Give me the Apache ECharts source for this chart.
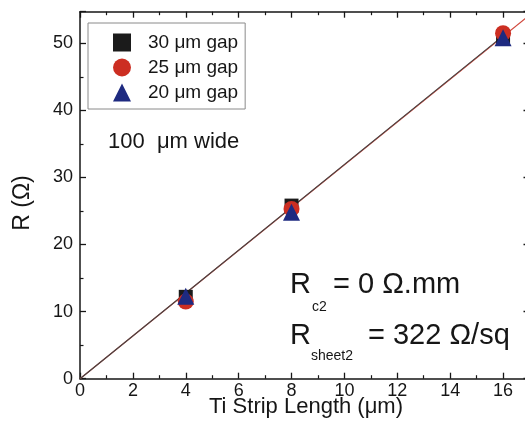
<!DOCTYPE html>
<html>
<head>
<meta charset="utf-8">
<script src="https://cdn.jsdelivr.net/npm/echarts@6/dist/echarts.min.js"></script>
<style>
  html, body { margin: 0; padding: 0; background: #fff; }
  #chart { width: 525px; height: 426px; }
</style>
</head>
<body>
<div id="chart"></div>
<script>
// Ti strip resistance vs. strip length (100 µm wide strips)
const stripLength = [4, 8, 16];
const gap30 = [12.2, 25.8, 51.0];
const gap25 = [11.5, 25.3, 51.5];
const gap20 = [12.3, 24.8, 50.8];

// linear fit end points (through the origin)
const fit30X = [0, 16];
const fit30Y = [0, 51.1];
const fit25X = [0, 17];
const fit25Y = [0, 54.2];

const seriesNames = ['30 μm gap', '25 μm gap', '20 μm gap'];
const xTicks = [0, 2, 4, 6, 8, 10, 12, 14, 16];
const yTicks = [0, 10, 20, 30, 40, 50];

const FONT = "'Liberation Sans', Arial, Helvetica, sans-serif";
const INK = '#161616';

const pairs = (xs, ys) => xs.map((x, i) => [x, ys[i]]);

function frameAxis(isX, pos, showLabels) {
  const axis = {
    type: 'value',
    position: pos,
    min: 0,
    max: isX ? 17 : 54.7,
    interval: isX ? 2 : 10,
    splitLine: { show: false },
    axisLine: { show: true, onZero: false, lineStyle: { color: INK, width: 1.5 } },
    axisTick: { show: true, inside: true, length: 6, lineStyle: { color: INK, width: 1.3 } },
    minorTick: { show: true, splitNumber: 2, length: 3.5, lineStyle: { color: INK, width: 1.2 } },
    axisLabel: { show: false }
  };
  if (showLabels) {
    const ticks = isX ? xTicks : yTicks;
    axis.axisLabel = {
      show: true,
      color: INK,
      fontFamily: FONT,
      fontSize: 18,
      margin: isX ? 3 : 7,
      formatter: v => (ticks.indexOf(v) >= 0 ? String(v) : '')
    };
  }
  return axis;
}

const chart = echarts.init(document.getElementById('chart'), null, { renderer: 'canvas' });

chart.setOption({
  backgroundColor: '#ffffff',
  animation: false,
  grid: { left: 80, width: 449.5, top: 11.7, bottom: 47.3, containLabel: false, outerBoundsMode: 'none' },
  xAxis: [frameAxis(true, 'bottom', true), frameAxis(true, 'top', false)],
  yAxis: [frameAxis(false, 'left', true), frameAxis(false, 'right', false)],
  legend: {
    data: seriesNames,
    orient: 'vertical',
    left: 88,
    top: 23,
    padding: [10, 7, 7, 25],
    itemGap: 6,
    itemWidth: 18,
    itemHeight: 18,
    borderColor: '#8a8a8a',
    borderWidth: 1,
    textStyle: { fontFamily: FONT, fontSize: 19, color: INK, padding: [0, 0, 0, 12] }
  },
  series: [
    {
      type: 'line', data: pairs(fit25X, fit25Y), showSymbol: false, silent: true,
      lineStyle: { color: '#d0473c', width: 1.2 }, z: 1
    },
    {
      type: 'line', data: pairs(fit30X, fit30Y), showSymbol: false, silent: true,
      lineStyle: { color: '#444444', width: 1.1 }, z: 2
    },
    {
      name: seriesNames[0], type: 'scatter', data: pairs(stripLength, gap30),
      symbol: 'rect', symbolSize: 14, itemStyle: { color: '#1b1b1b', opacity: 1 }, z: 3
    },
    {
      name: seriesNames[1], type: 'scatter', data: pairs(stripLength, gap25),
      symbol: 'circle', symbolSize: 16, itemStyle: { color: '#cc2e22', opacity: 1 }, z: 4
    },
    {
      name: seriesNames[2], type: 'scatter', data: pairs(stripLength, gap20),
      symbol: 'triangle', symbolSize: 17, itemStyle: { color: '#1e2a80', opacity: 1 }, z: 5
    }
  ],
  graphic: [
    { type: 'text', x: 306, y: 407, style: { text: 'Ti Strip Length (μm)', font: '22px ' + FONT, fill: INK, align: 'center', verticalAlign: 'middle' } },
    { type: 'text', x: 23, y: 203, rotation: Math.PI / 2, style: { text: 'R (Ω)', font: '23px ' + FONT, fill: INK, align: 'center', verticalAlign: 'middle' } },
    { type: 'text', x: 108, y: 142, style: { text: '100  μm wide', font: '22px ' + FONT, fill: INK, align: 'left', verticalAlign: 'middle' } },
    { type: 'text', x: 290, y: 285, style: { text: 'R', font: '29px ' + FONT, fill: INK, align: 'left', verticalAlign: 'middle' } },
    { type: 'text', x: 312, y: 307, style: { text: 'c2', font: '14px ' + FONT, fill: INK, align: 'left', verticalAlign: 'middle' } },
    { type: 'text', x: 333, y: 285, style: { text: '= 0 Ω.mm', font: '29px ' + FONT, fill: INK, align: 'left', verticalAlign: 'middle' } },
    { type: 'text', x: 290, y: 336, style: { text: 'R', font: '29px ' + FONT, fill: INK, align: 'left', verticalAlign: 'middle' } },
    { type: 'text', x: 311, y: 356, style: { text: 'sheet2', font: '14px ' + FONT, fill: INK, align: 'left', verticalAlign: 'middle' } },
    { type: 'text', x: 368, y: 336, style: { text: '= 322 Ω/sq', font: '29px ' + FONT, fill: INK, align: 'left', verticalAlign: 'middle' } }
  ]
});
</script>
</body>
</html>
